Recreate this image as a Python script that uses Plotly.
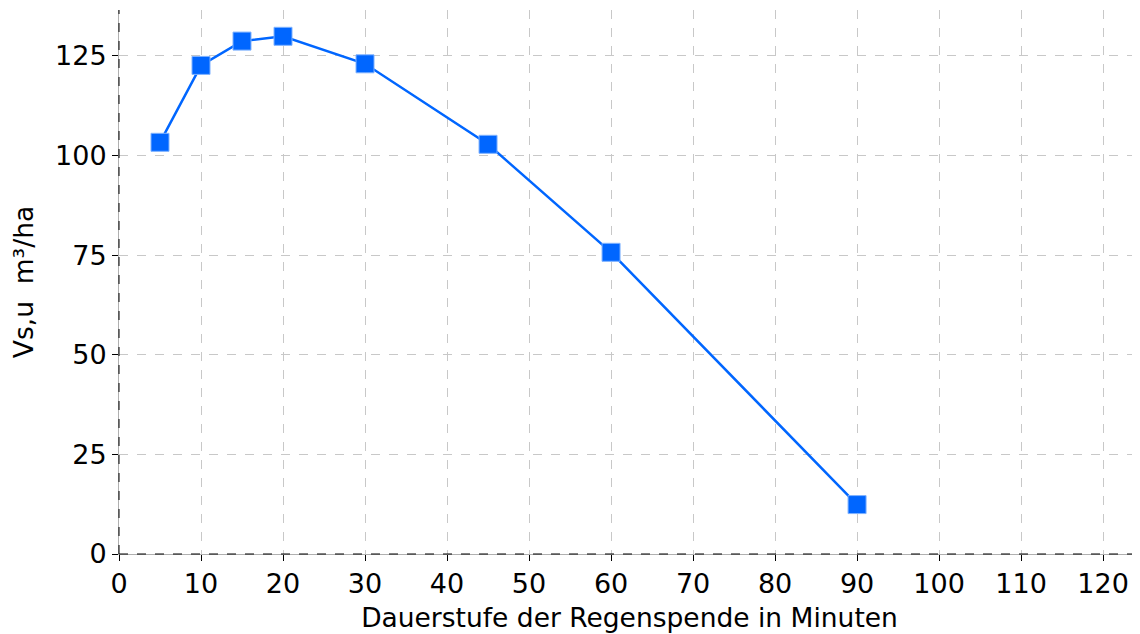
import plotly.graph_objects as go

dauer = [5, 10, 15, 20, 30, 45, 60, 90]
vsu = [103.3, 122.6, 128.7, 129.9, 123.0, 102.8, 75.7, 12.4]
x_ticks = [0, 10, 20, 30, 40, 50, 60, 70, 80, 90, 100, 110, 120]
y_ticks = [0, 25, 50, 75, 100, 125]

fig = go.Figure()
fig.add_trace(go.Scatter(
    x=dauer, y=vsu, mode="lines+markers",
    line=dict(color="#0066ff", width=2.5),
    marker=dict(symbol="square", size=18, color="#0066ff",
                line=dict(color="#7fb2ff", width=1)),
    cliponaxis=False, showlegend=False,
))

tickfont = dict(family="DejaVu Sans", size=27, color="black")
titlefont = dict(family="DejaVu Sans", size=26.5, color="black")
fig.update_layout(
    width=1132, height=626,
    margin=dict(l=111, r=0, t=2, b=80),
    plot_bgcolor="white", paper_bgcolor="white",
    font=tickfont,
    xaxis=dict(range=[0, 124.5], tickvals=x_ticks, showgrid=True,
               gridcolor="#c8c8c8", griddash="dash", gridwidth=1,
               showline=True, linecolor="#b0b0b0", linewidth=1,
               ticks="outside", ticklen=6, tickcolor="black",
               zeroline=False, tickfont=tickfont,
               title=dict(text="Dauerstufe der Regenspende in Minuten",
                          font=titlefont, standoff=10)),
    yaxis=dict(range=[0, 136.5], tickvals=y_ticks, showgrid=True,
               gridcolor="#c8c8c8", griddash="dash", gridwidth=1,
               showline=True, linecolor="#b0b0b0", linewidth=1,
               ticks="outside", ticklen=6, tickcolor="black",
               zeroline=False, tickfont=tickfont,
               title=dict(text="Vs,u  m³/ha", font=titlefont, standoff=15)),
    shapes=[
        dict(type="line", xref="paper", yref="paper", x0=0, x1=1, y0=0, y1=0,
             line=dict(color="black", width=1, dash="dash")),
        dict(type="line", xref="paper", yref="paper", x0=0, x1=0, y0=0, y1=1,
             line=dict(color="black", width=1, dash="dash")),
    ],
)
fig.write_html("out.html")
